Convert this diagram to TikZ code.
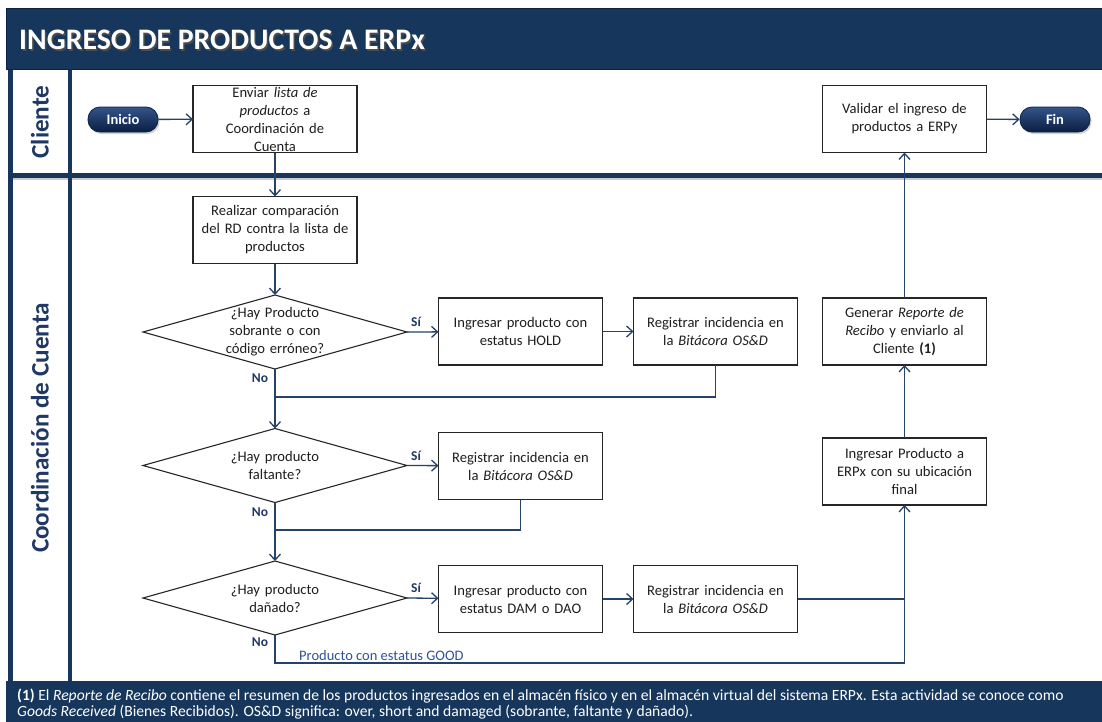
\documentclass[tikz,border=0pt]{standalone}
\usepackage{fontspec}
\setmainfont{Carlito}
\usetikzlibrary{arrows.meta,shapes.geometric,shadows}

\definecolor{navy}{RGB}{22,54,92}
\definecolor{navydark}{RGB}{12,36,68}
\definecolor{conn}{RGB}{37,66,105}
\definecolor{lbl}{RGB}{31,56,100}
\definecolor{good}{RGB}{47,84,150}
\definecolor{txt}{RGB}{30,30,30}
\definecolor{pilltop}{RGB}{52,84,138}
\definecolor{pillbot}{RGB}{10,30,66}

\tikzset{
  procbox/.style={draw=black!85, line width=1.1pt, fill=white,
    minimum width=164pt, minimum height=67pt, inner sep=0pt, outer sep=0pt},
  boxtext/.style={text width=160pt, align=center, inner sep=0pt,
    font=\fontsize{14.6}{18}\selectfont, text=txt},
  decision/.style={diamond, draw=black!85, line width=1.1pt, fill=white,
    minimum width=264pt, minimum height=74pt, inner sep=0pt, outer sep=0pt},
  terminal/.style={rounded corners=12pt, draw=navydark, line width=0.8pt,
    top color=pilltop, bottom color=pillbot, minimum width=70pt, minimum height=25pt,
    inner sep=0pt, text=white, font=\bfseries\fontsize{14.5}{16}\selectfont,
    drop shadow={shadow xshift=1.5pt, shadow yshift=-2pt, opacity=0.35}},
  flow/.style={draw=conn, line width=1.3pt,
    -{Straight Barb[length=6pt,width=11pt,line width=1.3pt]}},
  link/.style={draw=conn, line width=1.3pt},
  answer/.style={font=\bfseries\fontsize{13.5}{15}\selectfont, text=lbl, inner sep=0pt},
  lanetitle/.style={rotate=90, font=\bfseries\fontsize{25.2}{28}\selectfont, text=lbl, inner sep=0pt}
}

\begin{document}
\begin{tikzpicture}[x=1pt,y=-1pt]
\useasboundingbox (0,0) rectangle (1102,721);
\fill[white] (0,0) rectangle (1102,721);

% header and footer bands
\fill[navy] (6,8) rectangle (1110,70);
\draw[navydark, line width=1.5pt] (1110,8.7) -- (6.7,8.7) -- (6.7,70);
\fill[navy] (6,681) rectangle (1110,730);

% swimlane frame
\draw[black!20, line width=2pt] (12,179) -- (1110,179);
\draw[navy, line width=5pt] (10,68) -- (10,683);
\draw[navy, line width=4.5pt] (70,68) -- (70,683);
\draw[navy, line width=4.5pt] (8,175.5) -- (1110,175.5);
\draw[navydark, line width=1.5pt] (6,69.5) -- (1110,69.5);

% titles
\node[anchor=west, inner sep=0pt, text=black!70, font=\bfseries\fontsize{29.8}{32}\selectfont]
  at (20.5,41.5) {INGRESO DE PRODUCTOS A ERPx};
\node[anchor=west, inner sep=0pt, text=white, font=\bfseries\fontsize{29.8}{32}\selectfont]
  (title) at (19,40) {INGRESO DE PRODUCTOS A ERPx};
\node[lanetitle] (laneA) at (40,122) {Cliente};
\node[lanetitle] (laneB) at (40,428) {Coordinación de Cuenta};

% terminals
\node[terminal] (ini) at (123,119.5) {Inicio};
\node[terminal] (fin) at (1055,119.5) {Fin};

% process boxes
\node[procbox] (env) at (275,119) {};
\node[boxtext] at (env) {Enviar \textit{lista de}\\\textit{productos} a\\Coordinación de\\Cuenta};
\node[procbox] (val) at (904.5,119) {};
\node[boxtext] at (val) {Validar el ingreso de\\productos a ERPy};
\node[procbox] (rea) at (275,230) {};
\node[boxtext] at (rea) {Realizar comparación\\del RD contra la lista de\\productos};
\node[procbox] (hold) at (520.5,331.5) {};
\node[boxtext] at (hold) {Ingresar producto con\\estatus HOLD};
\node[procbox] (reg1) at (715.5,331.5) {};
\node[boxtext] at (reg1) {Registrar incidencia en\\la \textit{Bitácora OS\&D}};
\node[procbox] (gen) at (904.5,331.5) {};
\node[boxtext] at (gen) {Generar \textit{Reporte de}\\\textit{Recibo} y enviarlo al\\Cliente \textbf{(1)}};
\node[procbox] (reg2) at (520.5,466) {};
\node[boxtext] at (reg2) {Registrar incidencia en\\la \textit{Bitácora OS\&D}};
\node[procbox] (ing) at (904.5,471.5) {};
\node[boxtext] at (ing) {Ingresar Producto a\\ERPx con su ubicación\\final};
\node[procbox] (dam) at (520.5,599) {};
\node[boxtext] at (dam) {Ingresar producto con\\estatus DAM o DAO};
\node[procbox] (reg3) at (715.5,599) {};
\node[boxtext] at (reg3) {Registrar incidencia en\\la \textit{Bitácora OS\&D}};

% decisions
\node[decision] (d1) at (275,332) {};
\node[boxtext] at (d1) {¿Hay Producto\\sobrante o con\\código erróneo?};
\node[decision] (d2) at (275,465.5) {};
\node[boxtext] at (d2) {¿Hay producto\\faltante?};
\node[decision] (d3) at (275,598) {};
\node[boxtext] at (d3) {¿Hay producto\\dañado?};

% decision answers
\node[answer] (y1) at (416,322) {Sí};
\node[answer] (n1) at (260,378) {No};
\node[answer] (y2) at (416,455.5) {Sí};
\node[answer] (n2) at (260,512) {No};
\node[answer] (y3) at (416,588) {Sí};
\node[answer] (n3) at (260,642) {No};

% join points
\coordinate (j1) at (275,397);
\coordinate (j2) at (275,530);
\coordinate (g1) at (275,663);

% connectors
\draw[flow] (ini) -- (env);
\draw[flow] (env) -- (rea);
\draw[flow] (rea) -- (d1);
\draw[flow] (d1.east) -- (hold);
\draw[flow] (hold) -- (reg1);
\draw[link] (reg1.south) |- (j1);
\draw[flow] (d1.south) -- (d2.north);
\draw[flow] (d2.east) -- (reg2);
\draw[link] (reg2.south) |- (j2);
\draw[flow] (d2.south) -- (d3.north);
\draw[flow] (d3.east) -- (dam);
\draw[flow] (dam) -- (reg3);
\draw[link] (reg3.east) -- (reg3.east -| ing.south);
\draw[flow] (d3.south) -- (g1) -| (ing.south);
\draw[flow] (ing) -- (gen);
\draw[flow] (gen) -- (val);
\draw[flow] (val) -- (fin);

\node[anchor=west, inner sep=0pt, text=good, font=\fontsize{14.5}{16}\selectfont]
  (goodlbl) at (299,655.5) {Producto con estatus GOOD};

% footnote
\node[anchor=north west, inner sep=0pt, align=left, text=white,
  font=\fontsize{15.6}{16}\selectfont] (note) at (17,688.5)
  {\textbf{(1)} El \textit{Reporte de Recibo} contiene el resumen de los productos ingresados en el almacén físico y en el almacén virtual del sistema ERPx. Esta actividad se conoce como\\
   \textit{Goods Received} (Bienes Recibidos). OS\&D significa: over, short and damaged (sobrante, faltante y dañado).};
\end{tikzpicture}
\end{document}
